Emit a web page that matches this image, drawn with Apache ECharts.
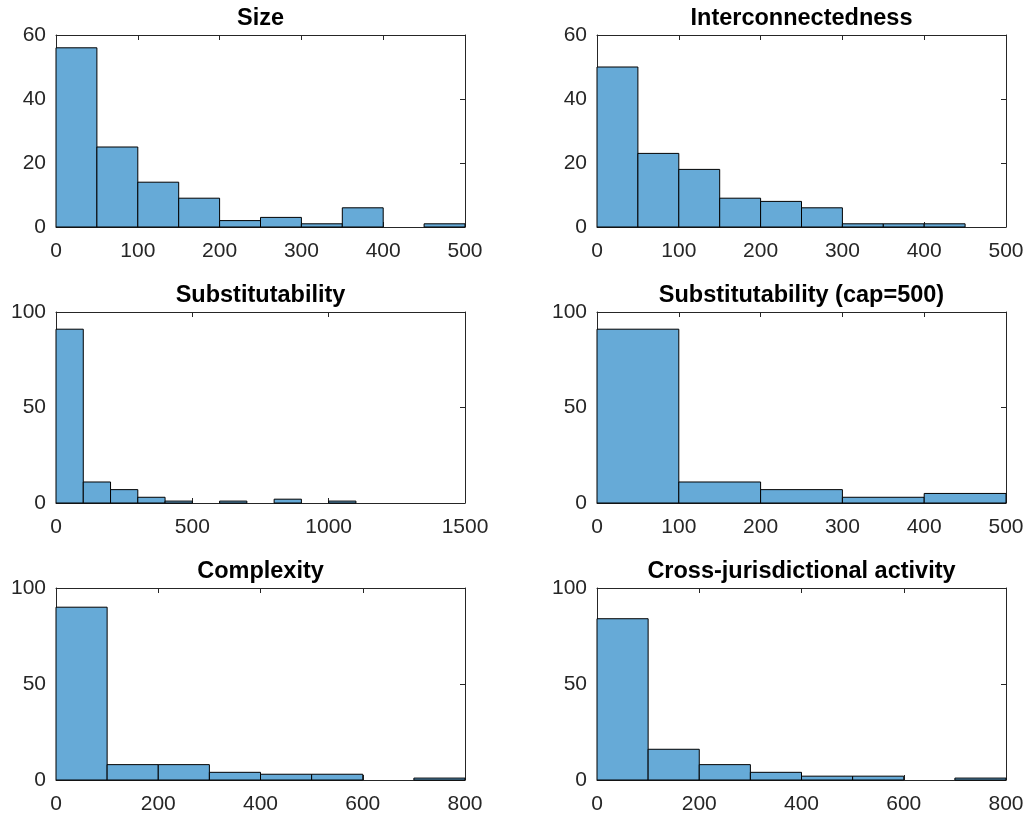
<!DOCTYPE html>
<html>
<head>
<meta charset="utf-8">
<script src="https://cdn.jsdelivr.net/npm/echarts@6/dist/echarts.min.js"></script>
<style>
  html, body { margin: 0; padding: 0; background: #fff; }
  #chart { width: 1029px; height: 816px; }
</style>
</head>
<body>
<div id="chart"></div>
<script>
// Histogram bin edges and counts for each indicator
const sizeEdges = [0, 50, 100, 150, 200, 250, 300, 350, 400, 450, 500];
const sizeCounts = [56, 25, 14, 9, 2, 3, 1, 6, 0, 1];

const interEdges = [0, 50, 100, 150, 200, 250, 300, 350, 400, 450, 500];
const interCounts = [50, 23, 18, 9, 8, 6, 1, 1, 1, 0];

const substEdges = [0, 100, 200, 300, 400, 500, 600, 700, 800, 900, 1000, 1100];
const substCounts = [91, 11, 7, 3, 1, 0, 1, 0, 2, 0, 1];

const substCapEdges = [0, 100, 200, 300, 400, 500];
const substCapCounts = [91, 11, 7, 3, 5];

const complexEdges = [0, 100, 200, 300, 400, 500, 600, 700, 800];
const complexCounts = [90, 8, 8, 4, 3, 3, 0, 1];

const crossEdges = [0, 100, 200, 300, 400, 500, 600, 700, 800];
const crossCounts = [84, 16, 8, 4, 2, 2, 0, 1];

const titles = ['Size', 'Interconnectedness', 'Substitutability',
  'Substitutability (cap=500)', 'Complexity', 'Cross-jurisdictional activity'];

// x-axis ranges and tick steps
const xMax = [500, 500, 1500, 500, 800, 800];
const xStep = [100, 100, 500, 100, 200, 200];
// y-axis ranges and tick steps
const yMax = [60, 60, 100, 100, 100, 100];
const yStep = [20, 20, 50, 50, 50, 50];

const panels = [
  [sizeEdges, sizeCounts],
  [interEdges, interCounts],
  [substEdges, substCounts],
  [substCapEdges, substCapCounts],
  [complexEdges, complexCounts],
  [crossEdges, crossCounts]
];

const FONT = '"Liberation Sans", Arial, sans-serif';
const AXIS = '#262626';
const FACE = '#66AAD7';

const gridBoxes = [
  { left: 56, top: 35, width: 409, height: 192 },
  { left: 597, top: 35, width: 409, height: 192 },
  { left: 56, top: 312, width: 409, height: 191 },
  { left: 597, top: 312, width: 409, height: 191 },
  { left: 56, top: 588, width: 409, height: 192 },
  { left: 597, top: 588, width: 409, height: 192 }
];

const grid = [], xAxis = [], yAxis = [], series = [], title = [];

function binData(edges, counts) {
  const out = [];
  for (let i = 0; i < counts.length; i++) {
    if (counts[i] > 0) out.push([edges[i], edges[i + 1], counts[i]]);
  }
  return out;
}

const plain = v => String(v);

gridBoxes.forEach((g, i) => {
  grid.push(Object.assign({ containLabel: false }, g));

  const tick = { show: true, inside: true, length: 5, lineStyle: { color: AXIS, width: 1 } };
  const line = { show: true, onZero: false, lineStyle: { color: AXIS, width: 1 } };

  xAxis.push({
    type: 'value', gridIndex: i, position: 'bottom',
    min: 0, max: xMax[i], interval: xStep[i],
    axisLine: line, axisTick: tick, splitLine: { show: false },
    axisLabel: { color: AXIS, fontFamily: FONT, fontSize: 21, margin: 14, formatter: plain }
  });
  xAxis.push({
    type: 'value', gridIndex: i, position: 'top',
    min: 0, max: xMax[i], interval: xStep[i],
    axisLine: line, axisTick: tick, splitLine: { show: false },
    axisLabel: { show: false }
  });
  yAxis.push({
    type: 'value', gridIndex: i, position: 'left',
    min: 0, max: yMax[i], interval: yStep[i],
    axisLine: line, axisTick: tick, splitLine: { show: false },
    axisLabel: { color: AXIS, fontFamily: FONT, fontSize: 21, margin: 10, formatter: plain }
  });
  yAxis.push({
    type: 'value', gridIndex: i, position: 'right',
    min: 0, max: yMax[i], interval: yStep[i],
    axisLine: line, axisTick: tick, splitLine: { show: false },
    axisLabel: { show: false }
  });

  series.push({
    type: 'custom',
    name: titles[i],
    xAxisIndex: 2 * i,
    yAxisIndex: 2 * i,
    encode: { x: [0, 1], y: 2 },
    data: binData(panels[i][0], panels[i][1]),
    renderItem: function (params, api) {
      const p0 = api.coord([api.value(0), api.value(2)]);
      const p1 = api.coord([api.value(1), 0]);
      return {
        type: 'rect',
        shape: { x: p0[0], y: p0[1], width: p1[0] - p0[0], height: p1[1] - p0[1] },
        style: { fill: FACE, stroke: '#000', lineWidth: 1 }
      };
    }
  });

  title.push({
    text: titles[i],
    left: g.left + g.width / 2,
    top: g.top - 28,
    textAlign: 'center',
    padding: 0,
    textStyle: { fontFamily: FONT, fontSize: 23.5, fontWeight: 'bold', color: '#000' }
  });
});

const chart = echarts.init(document.getElementById('chart'), null, { renderer: 'canvas' });
chart.setOption({
  animation: false,
  backgroundColor: '#fff',
  title: title,
  grid: grid,
  xAxis: xAxis,
  yAxis: yAxis,
  series: series
});
</script>
</body>
</html>
